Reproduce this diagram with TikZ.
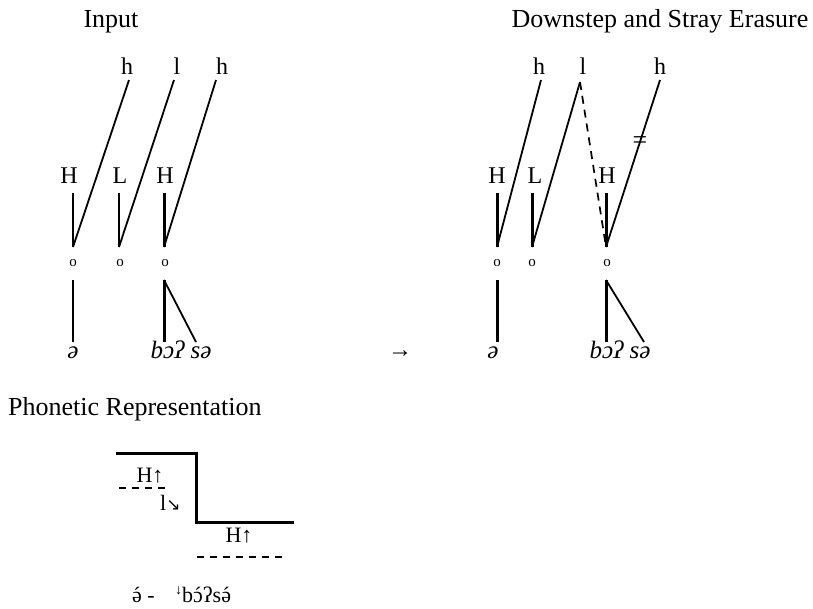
\documentclass[tikz,border=0pt]{standalone}
\usepackage{fontspec}
\setmainfont{Liberation Serif}
\newfontfamily\djv{DejaVu Sans}
\newcommand\acut[1]{\ooalign{#1\cr\hidewidth\char"00B4\hidewidth\cr}}
\begin{document}
\begin{tikzpicture}[x=1pt,y=-1pt,
  ttl/.style={font=\fontsize{26}{30}\selectfont, inner sep=0pt, anchor=base},
  lab/.style={font=\fontsize{24}{28}\selectfont, inner sep=0pt, anchor=base},
  syl/.style={font=\fontsize{15}{18}\selectfont, inner sep=0pt, anchor=base},
  seg/.style={font=\itshape\fontsize{25}{28}\selectfont, inner sep=0pt, anchor=base},
  ph/.style={font=\fontsize{22}{26}\selectfont, inner sep=0pt, anchor=base},
  thinl/.style={line width=1.8pt},
  thickl/.style={line width=3pt},
  dashl/.style={line width=1.7pt, dash pattern=on 7pt off 6pt},
  dashlink/.style={line width=1.7pt, dash pattern=on 8pt off 6pt}]
\useasboundingbox (0,0) rectangle (813,608);

% ---------- Left: Input ----------
\node[ttl] (tin) at (111,27) {Input};
\node[lab] (lh1) at (127,74) {h};
\node[lab] (ll1) at (177,74) {l};
\node[lab] (lh2) at (222,74) {h};
\node[lab] (lH1) at (69,183) {H};
\node[lab] (lL1) at (120,183) {L};
\node[lab] (lH2) at (165,183) {H};
\node[syl] (lo1) at (73,266) {o};
\node[syl] (lo2) at (120,266) {o};
\node[syl] (lo3) at (165,266) {o};
\node[seg] (ls1) at (73,358) {ə};
\node[seg] (ls2) at (181,358) {bɔʔ sə};

\coordinate (lt1) at (129,80);
\coordinate (lt2) at (174,80);
\coordinate (lt3) at (216,80);
\coordinate (lv1) at (73,193);
\coordinate (lv2) at (119,193);
\coordinate (lv3) at (164,193);
\coordinate (lj1) at (73,247);
\coordinate (lj2) at (119,247);
\coordinate (lj3) at (164,247);
\coordinate (lb1) at (73,280);
\coordinate (lb3) at (164,280);
\coordinate (le1) at (73,342);
\coordinate (le2) at (164,342);
\coordinate (le3) at (196,342);

\draw[thinl] (lt1) -- (lj1);
\draw[thinl] (lt2) -- (lj2);
\draw[thinl] (lt3) -- (lj3);
\draw[thinl] (lv1) -- (lj1);
\draw[thinl] (lv2) -- (lj2);
\draw[thickl] (lv3) -- (lj3);
\draw[thinl] (lb1) -- (le1);
\draw[thickl] (lb3) -- (le2);
\draw[thinl] (lb3) -- (le3);

% ---------- Arrow ----------
\node[lab] (arr) at (400,357) {→};

% ---------- Right: Downstep and Stray Erasure ----------
\node[ttl] (tout) at (660,27) {Downstep and Stray Erasure};
\node[lab] (rh1) at (539,74) {h};
\node[lab] (rl1) at (583,74) {l};
\node[lab] (rh2) at (660,74) {h};
\node[lab] (rH1) at (497,183) {H};
\node[lab] (rL1) at (535,183) {L};
\node[lab] (rH2) at (607,183) {H};
\node[syl] (ro1) at (497,266) {o};
\node[syl] (ro2) at (532,266) {o};
\node[syl] (ro3) at (607,266) {o};
\node[seg] (rs1) at (493,358) {ə};
\node[seg] (rs2) at (620,358) {bɔʔ sə};
\node[font=\fontsize{26}{28}\selectfont, inner sep=0pt] (cut) at (640,143) {=};

\coordinate (rt1) at (541,80);
\coordinate (rt2) at (580,82);
\coordinate (rt3) at (660,80);
\coordinate (rv1) at (497,193);
\coordinate (rv2) at (532,193);
\coordinate (rv3) at (606,193);
\coordinate (rj1) at (497,247);
\coordinate (rj2) at (532,247);
\coordinate (rj3) at (606,247);
\coordinate (rb1) at (497,280);
\coordinate (rb3) at (606,280);
\coordinate (re1) at (497,342);
\coordinate (re2) at (606,342);
\coordinate (re3) at (644,342);

\draw[thinl] (rt1) -- (rj1);
\draw[thinl] (rt2) -- (rj2);
\draw[dashlink] (rt2) -- (rj3);
\draw[thinl] (rt3) -- (rj3);
\draw[thickl] (rv1) -- (rj1);
\draw[thickl] (rv2) -- (rj2);
\draw[thickl] (rv3) -- (rj3);
\draw[thickl] (rb1) -- (re1);
\draw[thickl] (rb3) -- (re2);
\draw[thinl] (rb3) -- (re3);

% ---------- Phonetic Representation ----------
\node[ttl, anchor=base west] (tph) at (8,415) {Phonetic Representation};
\coordinate (p1) at (116,453);
\coordinate (p2) at (196,453);
\coordinate (p3) at (196,522);
\coordinate (p4) at (294,522);
\draw[thickl] (p1) -- (p2) -- (p3) -- (p4);
\coordinate (d1) at (119,488);
\coordinate (d2) at (168,488);
\coordinate (d3) at (197,557);
\coordinate (d4) at (287,557);
\draw[dashl] (d1) -- (d2);
\draw[dashl] (d3) -- (d4);
\node[ph] (pH1) at (150,482) {H↑};
\node[ph, anchor=base west] (pl) at (160,510) {l{\djv\fontsize{17}{20}\selectfont ↘}};
\node[ph] (pH2) at (239,542) {H↑};
\node[ph, anchor=base west] (pv1) at (132,602) {\acut{ə} -};
\node[ph, anchor=base west] (pv2) at (175,602) {\raisebox{8pt}{\fontsize{14}{16}\selectfont ↓}b\acut{ɔ}ʔs\acut{ə}};
\end{tikzpicture}
\end{document}
